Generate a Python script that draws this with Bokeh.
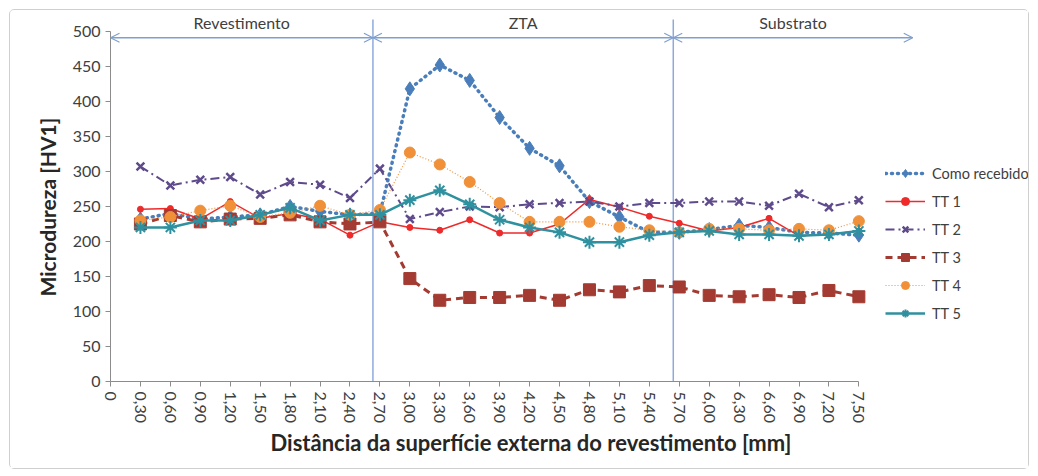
import math
from bokeh.plotting import figure
from bokeh.models import (Range1d, FixedTicker, CustomJSTickFormatter, Arrow, OpenHead,
                          Legend, LegendItem, Label, Title)
from bokeh.embed import file_html
from bokeh.resources import INLINE

# ---------------- data ----------------
x_mm = [0.30, 0.60, 0.90, 1.20, 1.50, 1.80, 2.10, 2.40, 2.70, 3.00, 3.30, 3.60, 3.90,
        4.20, 4.50, 4.80, 5.10, 5.40, 5.70, 6.00, 6.30, 6.60, 6.90, 7.20, 7.50]

como_recebido = [232, 240, 232, 235, 238, 250, 243, 238, 240, 418, 452, 430, 377,
                 333, 308, 257, 235, 213, 213, 217, 223, 220, 213, 212, 209]
tt1 = [246, 247, 232, 257, 233, 240, 232, 209, 228, 220, 216, 231, 212,
       212, 225, 260, 249, 236, 226, 215, 220, 233, 208, 210, 215]
tt2 = [307, 280, 288, 292, 267, 285, 281, 262, 304, 232, 242, 250, 249,
       253, 255, 257, 250, 255, 255, 257, 257, 251, 268, 249, 259]
tt3 = [225, 237, 228, 232, 233, 238, 228, 225, 228, 147, 116, 120, 120,
       123, 116, 131, 128, 137, 135, 123, 121, 124, 120, 130, 121]
tt4 = [230, 235, 244, 251, 235, 241, 251, 238, 245, 327, 310, 285, 255,
       228, 228, 228, 221, 216, 213, 218, 218, 216, 218, 216, 229]
tt5 = [220, 220, 230, 230, 238, 248, 230, 238, 238, 259, 273, 253, 231,
       220, 213, 199, 199, 209, 213, 215, 210, 210, 208, 210, 215]

series_names = ["Como recebido", "TT 1", "TT 2", "TT 3", "TT 4", "TT 5"]

x_ticks = [0.0] + x_mm
y_ticks = [0, 50, 100, 150, 200, 250, 300, 350, 400, 450, 500]

zone_names = ["Revestimento", "ZTA", "Substrato"]
zone_edges = [0.0, 2.63, 5.64, 8.04]

x_title = "Distância da superfície externa do revestimento [mm]"
y_title = "Microdureza [HV1]"

# ---------------- figure ----------------
p = figure(width=1020, height=460, output_backend="svg", toolbar_location=None,
           x_range=Range1d(0, 9.2), y_range=Range1d(0, 527),
           min_border_left=100, min_border_right=2, min_border_top=2, min_border_bottom=89,
           background_fill_color="white", border_fill_color="white")
p.styles = {"border": "1px solid #cfcfcf", "border-radius": "5px",
            "margin-left": "9px", "margin-top": "9px"}
p.outline_line_color = None
p.xgrid.visible = False
p.ygrid.visible = False

FONT = "Lato"
TXT = "#404040"

for ax in (p.xaxis[0], p.yaxis[0]):
    ax.axis_line_color = "#8c8c8c"
    ax.major_tick_line_color = "#8c8c8c"
    ax.major_tick_out = 5
    ax.major_tick_in = 0
    ax.minor_tick_out = 0
    ax.minor_tick_in = 0
    ax.major_label_text_font = FONT
    ax.major_label_text_font_size = "16px"
    ax.major_label_text_color = TXT

p.xaxis.bounds = (0, 7.5)
p.yaxis.bounds = (0, 500)
p.xaxis.ticker = FixedTicker(ticks=x_ticks, minor_ticks=[])
p.yaxis.ticker = FixedTicker(ticks=y_ticks, minor_ticks=[])
p.xaxis.formatter = CustomJSTickFormatter(
    code="return tick == 0 ? '0' : tick.toFixed(2).replace('.', ',');")
p.xaxis.major_label_orientation = -math.pi / 2

# axis titles as offset Titles (placed like the Excel ones)
p.add_layout(Title(text=x_title, align="left", offset=160, standoff=2,
                   text_font=FONT, text_font_size="22px", text_font_style="bold",
                   text_color="#262626"), "below")
p.add_layout(Title(text=y_title, align="left", offset=85, standoff=19,
                   text_font=FONT, text_font_size="21px", text_font_style="bold",
                   text_color="#262626"), "left")

# ---------------- zone boundaries / arrows ----------------
bx = zone_edges[1:3]
p.segment(x0=bx, y0=[0, 0], x1=bx, y1=[517, 517], line_color="#8eaadb", line_width=1.5)

for i, name in enumerate(zone_names):
    a, b = zone_edges[i], zone_edges[i + 1]
    p.add_layout(Arrow(start=OpenHead(size=9, line_color="#7f9fcf", line_width=1.2),
                       end=OpenHead(size=9, line_color="#7f9fcf", line_width=1.2),
                       x_start=a, y_start=491, x_end=b, y_end=491,
                       line_color="#7f9fcf", line_width=1.5))
    p.add_layout(Label(x=(a + b) / 2, y=513, text=name, text_align="center",
                       text_baseline="middle", text_font=FONT, text_font_size="16px",
                       text_color=TXT))

# ---------------- series ----------------
styles = [
    dict(data=como_recebido, color="#4a7ebb", dash="1 5", lw=3.5, cap="round",
         marker="diamond", size=14, mlw=1),
    dict(data=tt1, color="#ee2a2a", dash="solid", lw=1.5, cap="butt",
         marker="circle", size=6, mlw=1),
    dict(data=tt2, color="#5f4a8b", dash="9 4 2 4", lw=2, cap="butt",
         marker="x", size=11, mlw=2.5),
    dict(data=tt3, color="#a33b32", dash="7 5", lw=3, cap="butt",
         marker="square", size=12, mlw=1),
    dict(data=tt4, color="#f0913a", dash="1 2", lw=1.2, cap="butt",
         marker="circle", size=11, mlw=1),
    dict(data=tt5, color="#2f919f", dash="solid", lw=2.5, cap="butt",
         marker="asterisk", size=13, mlw=2),
]

items = []
for name, st in zip(series_names, styles):
    lr = p.line(x_mm, st["data"], line_color=st["color"], line_width=st["lw"],
                line_dash=st["dash"], line_cap=st["cap"])
    sr = p.scatter(x_mm, st["data"], marker=st["marker"], size=st["size"],
                   fill_color=st["color"], line_color=st["color"], line_width=st["mlw"])
    items.append(LegendItem(label=name, renderers=[lr, sr]))

legend = Legend(items=items, location=(775, 58), orientation="vertical",
                label_text_font=FONT, label_text_font_size="14.5px", label_text_color=TXT,
                glyph_width=40, glyph_height=20, label_height=20, spacing=8,
                label_standoff=7, padding=0, margin=0,
                border_line_color=None, background_fill_alpha=0)
p.add_layout(legend)

open("out.html", "w").write(file_html(p, INLINE))
